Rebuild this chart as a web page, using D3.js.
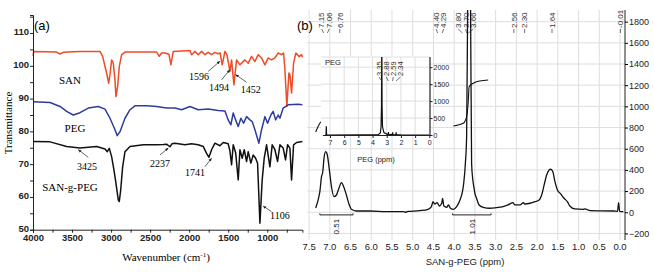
<!DOCTYPE html>
<html>
<head>
<meta charset="utf-8">
<script src="https://cdn.jsdelivr.net/npm/d3@7"></script>
<style>
  body { margin: 0; background: #fff; }
  svg { display: block; }
</style>
</head>
<body>
<svg id="chart" width="654" height="273"></svg>
<script>
// ---- (a) FTIR spectra: [wavenumber, transmittance] ----
const sanIR = [[4000,103.0],[3990,104.4],[3697,104.2],[3654,103.6],[3612,104.1],[3398,104.4],[3142,104.4],[3108,102.9],[3078,99.8],[3057,97.8],[3031,94.7],[3014,97.3],[2993,101.8],[2972,100.8],[2950,95.7],[2938,90.6],[2916,93.7],[2895,99.8],[2865,103.4],[2822,104.2],[2417,104.2],[2383,102.9],[2353,103.9],[2310,103.9],[2259,103.5],[2234,100.3],[2204,104.4],[1990,104.7],[1969,103.4],[1926,104.4],[1884,103.4],[1841,104.4],[1798,103.4],[1756,104.1],[1713,103.4],[1670,104.1],[1628,103.7],[1603,103.9],[1577,100.3],[1542,104.4],[1517,103.4],[1478,98.3],[1457,101.8],[1427,94.2],[1393,101.8],[1350,100.3],[1286,101.8],[1244,100.8],[1201,102.9],[1158,101.3],[1116,103.4],[1073,102.4],[1030,100.3],[988,102.4],[945,101.8],[902,102.4],[860,103.9],[817,103.4],[791,103.9],[774,98.8],[749,87.6],[723,97.8],[710,97.3],[689,91.7],[663,100.8],[634,103.9],[591,102.8],[561,103.4],[550,102.6]];
const pegIR = [[4000,89.0],[3782,88.8],[3654,87.6],[3569,86.1],[3484,85.0],[3398,85.7],[3292,87.1],[3164,87.6],[3078,86.8],[3014,84.0],[2950,80.5],[2921,78.7],[2886,79.9],[2822,84.0],[2758,86.6],[2694,87.8],[2545,87.8],[2417,87.6],[2289,87.1],[2182,87.1],[2097,86.6],[1990,87.6],[1884,86.6],[1756,86.8],[1628,86.4],[1542,86.2],[1500,83.5],[1466,82.0],[1436,85.6],[1405,83.5],[1372,81.5],[1338,84.0],[1303,82.5],[1265,84.5],[1222,83.5],[1193,83.0],[1158,80.5],[1107,76.4],[1073,80.5],[1030,84.5],[996,82.5],[954,85.0],[924,86.1],[893,83.5],[860,85.0],[838,84.0],[796,87.1],[732,88.1],[604,88.3],[550,88.1]];
const graftIR = [[4000,76.9],[3782,76.8],[3569,75.4],[3398,74.9],[3185,75.4],[3078,74.6],[3049,73.8],[3023,74.8],[2993,72.3],[2963,68.2],[2938,64.2],[2908,59.1],[2895,58.6],[2877,62.1],[2852,69.2],[2822,73.8],[2758,75.4],[2588,75.9],[2417,75.9],[2332,76.0],[2289,76.1],[2246,75.3],[2221,76.2],[2182,76.4],[2054,75.9],[1969,76.2],[1884,75.9],[1820,75.4],[1777,73.3],[1747,72.1],[1713,74.4],[1670,76.4],[1606,75.6],[1564,76.6],[1500,76.2],[1478,74.0],[1457,69.8],[1436,75.9],[1405,73.5],[1372,65.2],[1350,74.4],[1321,71.8],[1295,74.4],[1265,70.8],[1244,73.8],[1210,70.3],[1180,72.8],[1149,71.8],[1124,70.3],[1094,52.0],[1065,65.2],[1039,71.8],[1009,75.9],[966,69.2],[937,75.9],[902,74.4],[868,70.8],[838,75.9],[796,74.9],[766,71.3],[740,75.9],[710,74.9],[689,65.2],[663,75.9],[625,76.6],[550,76.9]];
const irNames = ['SAN', 'PEG', 'SAN-g-PEG'];
const irColors = ['#ef4b27', '#2e3d9c', '#111'];
const irTicksX = [4000, 3500, 3000, 2500, 2000, 1500, 1000];
const irTicksY = [50, 60, 70, 80, 90, 100, 110];
// band labels: [text, text wn, text T, arrow tail wn, tail T, head wn, head T]
const irBands = [
  ['1596', 1875, 95.7, 1756, 98.3, 1606, 101.4],
  ['1494', 1619, 92.4, 1585, 95.7, 1478, 98.8],
  ['1452', 1210, 91.8, 1265, 95.0, 1405, 97.3],
  ['3425', 3309, 68.2, 3292, 72.1, 3420, 74.4],
  ['2237', 2374, 69.2, 2374, 72.8, 2268, 74.9],
  ['1741', 1926, 66.3, 1798, 69.2, 1713, 71.8],
  ['1106', 838, 53.3, 945, 55.5, 1052, 57.2]
];

// ---- (b) 1H NMR: [ppm, intensity] ----
const sanGPegNMR = [[7.34,40],[7.28,120],[7.24,195],[7.20,336],[7.17,380],[7.14,510],[7.10,572],[7.06,541],[7.02,431],[6.96,242],[6.90,147],[6.84,163],[6.78,227],[6.72,280],[6.66,236],[6.60,163],[6.53,69],[6.48,28],[6.36,12],[6.03,12],[5.63,6],[5.23,6],[5.17,0],[5.12,8],[4.83,15],[4.63,28],[4.55,53],[4.51,100],[4.47,78],[4.41,91],[4.36,59],[4.30,85],[4.28,132],[4.25,59],[4.18,47],[4.14,69],[4.09,38],[4.02,28],[3.94,53],[3.86,116],[3.80,195],[3.77,274],[3.73,463],[3.70,714],[3.676,1900],[3.64,3200],[3.604,1900],[3.58,463],[3.55,305],[3.52,227],[3.50,179],[3.46,132],[3.40,69],[3.30,47],[3.14,38],[2.98,44],[2.90,48],[2.82,53],[2.70,69],[2.58,91],[2.54,69],[2.41,69],[2.33,91],[2.30,78],[2.17,85],[2.05,100],[1.95,116],[1.89,163],[1.83,258],[1.77,352],[1.71,399],[1.67,406],[1.62,383],[1.57,289],[1.51,211],[1.43,173],[1.35,132],[1.27,100],[1.21,59],[1.09,31],[0.89,28],[0.85,32],[0.72,15],[0.16,12],[0.06,9],[0.035,90],[0.01,9],[-0.08,6]];
const aromaticIntegral = [[7.34,758],[7.24,840],[7.16,872],[7.08,909],[6.96,950],[6.84,966],[6.72,982],[6.60,1013],[6.44,1035]];
const pegIntegral = [[4.02,815],[3.78,840],[3.70,903],[3.66,1050],[3.64,1186],[3.54,1218],[3.38,1240],[3.18,1249]];
const integrals = [[7.24, 6.44, '0.51'], [4.04, 3.11, '1.01']];
const sanGPegShifts = [7.15, 7.06, 6.76, 4.40, 4.29, 3.80, 3.70, 3.66, 2.56, 2.30, 1.64, -0.01];
const ppmTicks = [7.5, 7.0, 6.5, 6.0, 5.5, 5.0, 4.5, 4.0, 3.5, 3.0, 2.5, 2.0, 1.5, 1.0, 0.5, 0.0];
const intTicks = [-200, 0, 200, 400, 600, 800, 1000, 1200, 1400, 1600, 1800];

// inset: PEG alone
const pegNMR = [[7.35,0],[7.28,0],[7.26,260],[7.24,0],[5.0,4],[3.6,10],[3.45,60],[3.40,250],[3.37,900],[3.35,3000],[3.33,900],[3.30,250],[3.2,70],[3.0,25],[2.9,15],[2.88,90],[2.86,15],[2.62,10],[2.59,80],[2.56,10],[2.36,8],[2.34,80],[2.32,8],[2.0,4],[0.0,0]];
const pegShifts = [3.35, 2.88, 2.59, 2.34];
const insetTicksX = [7, 6, 5, 4, 3, 2, 1, 0];
const insetTicksY = [0, 500, 1000, 1500, 2000];

const svg = d3.select('#chart');
const sans = 'Liberation Sans, Arial, sans-serif';
const serif = 'Liberation Serif, Times New Roman, serif';
const plain = d3.format('d');

svg.append('defs').append('marker')
  .attr('id', 'arr').attr('viewBox', '0 0 10 10').attr('refX', 9).attr('refY', 5)
  .attr('markerWidth', 5).attr('markerHeight', 5).attr('orient', 'auto')
  .append('path').attr('d', 'M0,1L10,5L0,9z').attr('fill', '#222');

// ================= panel (a) =================
const xa = d3.scaleLinear().domain([4000, 550]).range([33, 302.4]);
const ya = d3.scaleLinear().domain([50, 115.5]).range([229.7, 15]);
const ga = svg.append('g');

const irLine = d3.line().x(d => xa(d[0])).y(d => ya(d[1]));
[sanIR, pegIR, graftIR].forEach((s, i) => {
  ga.append('path').datum(s).attr('d', irLine)
    .attr('fill', 'none').attr('stroke', irColors[i]).attr('stroke-width', 1.5)
    .attr('stroke-linejoin', 'round');
});

// axes
const axY = ga.append('g').attr('transform', 'translate(33,0)')
  .call(d3.axisLeft(ya).tickValues(d3.range(50, 116, 5)).tickSize(3).tickFormat(d => irTicksY.includes(d) ? plain(d) : ''));
const axX = ga.append('g').attr('transform', 'translate(0,229.7)')
  .call(d3.axisBottom(xa).tickValues(d3.range(4000, 549, -250)).tickSize(3).tickFormat(d => irTicksX.includes(d) ? plain(d) : ''));
[axY, axX].forEach(a => {
  a.select('.domain').attr('stroke', '#222');
  a.selectAll('.tick line').attr('stroke', '#222');
  a.selectAll('text').attr('font-family', sans).attr('font-weight', 'bold')
    .attr('font-size', 9.5).attr('fill', '#222');
});
axY.selectAll('text').attr('x', -4).attr('dy', '0.2em');
axX.selectAll('text').attr('y', 5);

ga.append('text').attr('transform', 'translate(12,123) rotate(-90)')
  .attr('text-anchor', 'middle').attr('font-family', serif).attr('font-size', 11)
  .text('Transmittance');
const xt = ga.append('text').attr('x', 166).attr('y', 261).attr('text-anchor', 'middle')
  .attr('font-family', serif).attr('font-size', 11);
xt.append('tspan').text('Wavenumber (cm');
xt.append('tspan').attr('dy', -4).attr('font-size', 7).text('-1');
xt.append('tspan').attr('dy', 4).text(')');

ga.append('text').attr('x', 34).attr('y', 30).attr('font-family', sans).attr('font-size', 13).text('(a)');

// series names
const namePos = [[3526, 94.5], [3462, 79.8], [3526, 61.8]];
irNames.forEach((n, i) => {
  ga.append('text').attr('x', xa(namePos[i][0])).attr('y', ya(namePos[i][1]))
    .attr('text-anchor', 'middle').attr('font-family', serif).attr('font-size', 11).text(n);
});

// band annotations
irBands.forEach(b => {
  ga.append('text').attr('x', xa(b[1])).attr('y', ya(b[2])).attr('text-anchor', 'middle')
    .attr('font-family', serif).attr('font-size', 10).text(b[0]);
  ga.append('line').attr('x1', xa(b[3])).attr('y1', ya(b[4])).attr('x2', xa(b[5])).attr('y2', ya(b[6]))
    .attr('stroke', '#222').attr('stroke-width', 0.7).attr('marker-end', 'url(#arr)');
});

// ================= panel (b) =================
const xb = d3.scaleLinear().domain([7.55, -0.12]).range([307, 625]);
const yb = d3.scaleLinear().domain([-262, 1910]).range([240, 10]);
const gb = svg.append('g');

gb.append('clipPath').attr('id', 'clipB').append('rect')
  .attr('x', 307).attr('y', 10).attr('width', 318).attr('height', 230);

// grid
gb.append('g').selectAll('line').data(ppmTicks).join('line')
  .attr('x1', d => xb(d)).attr('x2', d => xb(d)).attr('y1', 10).attr('y2', 240)
  .attr('stroke', '#dedede').attr('stroke-width', 1);
gb.append('g').selectAll('line').data(intTicks).join('line')
  .attr('x1', 307).attr('x2', 625).attr('y1', d => yb(d)).attr('y2', d => yb(d))
  .attr('stroke', '#dedede').attr('stroke-width', 1);

const nmrLine = d3.line().x(d => xb(d[0])).y(d => yb(d[1])).curve(d3.curveMonotoneX);
const bodyB = gb.append('g').attr('clip-path', 'url(#clipB)');
bodyB.append('path').datum(sanGPegNMR).attr('d', nmrLine)
  .attr('fill', 'none').attr('stroke', '#111').attr('stroke-width', 1.3);
bodyB.append('path').datum(pegIntegral).attr('d', nmrLine)
  .attr('fill', 'none').attr('stroke', '#111').attr('stroke-width', 1.1);

// right axis
const axB = gb.append('g').attr('transform', 'translate(625,0)')
  .call(d3.axisRight(yb).tickValues(intTicks).tickSize(3).tickFormat(plain));
axB.select('.domain').attr('stroke', '#222').attr('d', `M0,${10}V${240}`);
axB.selectAll('text').attr('font-family', sans).attr('font-size', 9).attr('fill', '#222').attr('x', 4);

// bottom tick labels (no axis line)
gb.append('g').selectAll('text').data(ppmTicks).join('text')
  .attr('x', d => xb(d)).attr('y', 250).attr('text-anchor', 'middle')
  .attr('font-family', sans).attr('font-size', 9.5).attr('fill', '#222')
  .text(d => d.toFixed(1));
gb.append('text').attr('x', 465).attr('y', 265).attr('text-anchor', 'middle')
  .attr('font-family', sans).attr('font-size', 9.5).attr('fill', '#222').text('SAN-g-PEG (ppm)');

gb.append('text').attr('x', 297).attr('y', 30).attr('font-family', sans).attr('font-size', 13).text('(b)');

// integration bars
integrals.forEach(r => {
  const x1 = xb(r[0]), x2 = xb(r[1]), y = yb(-25);
  gb.append('path').attr('d', `M${x1},${y - 1.5}V${y}H${x2}V${y - 1.5}`)
    .attr('fill', 'none').attr('stroke', '#222').attr('stroke-width', 1);
  gb.append('text').attr('transform', `translate(${(x1 + x2) / 2},${y + 4}) rotate(-90)`)
    .attr('text-anchor', 'end').attr('dy', '0.35em')
    .attr('font-family', sans).attr('font-size', 8).attr('fill', '#222').text(r[2]);
});

// spread crowded peak labels apart, keep connectors to the peaks
function spread(targets, gap) {
  const groups = [];
  targets.forEach(t => {
    groups.push({ sum: t, n: 1, start: t });
    while (groups.length > 1) {
      const b = groups[groups.length - 1], a = groups[groups.length - 2];
      if (a.start + a.n * gap <= b.start) break;
      groups.pop();
      a.sum += b.sum; a.n += b.n;
      a.start = a.sum / a.n - (a.n - 1) * gap / 2;
    }
  });
  return groups.flatMap(g => d3.range(g.n).map(i => g.start + i * gap));
}
function peakLabels(g, shifts, xs, yBase, size) {
  const targets = shifts.map(xs);
  const pos = spread(targets, size * 0.95);
  shifts.forEach((s, i) => {
    g.append('line').attr('x1', pos[i]).attr('y1', yBase + 1).attr('x2', targets[i]).attr('y2', yBase + 5)
      .attr('stroke', '#333').attr('stroke-width', 0.7);
    g.append('text').attr('transform', `translate(${pos[i]},${yBase}) rotate(-90)`)
      .attr('dy', '0.35em').attr('font-family', sans).attr('font-size', size).attr('fill', '#333')
      .text(s.toFixed(2));
  });
}
peakLabels(gb, sanGPegShifts, xb, 28, 8);

// ---------- inset ----------
const xi = d3.scaleLinear().domain([7.5, 0]).range([322.9, 429.3]);
const yi = d3.scaleLinear().domain([0, 2300]).range([135, 57]);
const gi = svg.append('g');
gi.append('rect').attr('x', 321).attr('y', 56).attr('width', 109).attr('height', 80).attr('fill', '#fff');
gi.append('g').selectAll('line').data(insetTicksX.slice(0, -1)).join('line')
  .attr('x1', d => xi(d)).attr('x2', d => xi(d)).attr('y1', 57).attr('y2', 135)
  .attr('stroke', '#dedede');
gi.append('g').selectAll('line').data(insetTicksY.slice(1)).join('line')
  .attr('x1', 321).attr('x2', 430).attr('y1', d => yi(d)).attr('y2', d => yi(d))
  .attr('stroke', '#dedede');
gi.append('line').attr('x1', 321).attr('x2', 430).attr('y1', 57).attr('y2', 57).attr('stroke', '#dedede');

gi.append('clipPath').attr('id', 'clipI').append('rect')
  .attr('x', 321).attr('y', 57).attr('width', 109).attr('height', 80);
const insetLine = d3.line().x(d => xi(d[0])).y(d => yi(d[1]));
gi.append('g').attr('clip-path', 'url(#clipI)').append('path').datum(pegNMR).attr('d', insetLine)
  .attr('fill', 'none').attr('stroke', '#111').attr('stroke-width', 1.2);

const axIX = gi.append('g').attr('transform', 'translate(0,135.5)')
  .call(d3.axisBottom(xi).tickValues(insetTicksX).tickSize(2.5).tickFormat(plain));
axIX.select('.domain').attr('d', `M${xi(7.5)},0H${xi(0) + 1}`);
const axIY = gi.append('g').attr('transform', 'translate(430,0)')
  .call(d3.axisRight(yi).tickValues(insetTicksY).tickSize(2.5).tickFormat(plain));
axIY.select('.domain').attr('d', 'M0,57V136');
[axIX, axIY].forEach(a => {
  a.select('.domain').attr('stroke', '#222').attr('stroke-width', 1.2);
  a.selectAll('.tick line').attr('stroke', '#222');
  a.selectAll('text').attr('font-family', sans).attr('font-size', 7).attr('fill', '#222');
});
axIX.selectAll('text').attr('y', 4.5);
axIY.selectAll('text').attr('x', 3.5);
gi.append('text').attr('x', 376).attr('y', 162).attr('text-anchor', 'middle')
  .attr('font-family', sans).attr('font-size', 7.5).attr('fill', '#222').text('PEG (ppm)');
gi.append('text').attr('x', 325).attr('y', 65).attr('font-family', sans).attr('font-size', 7.5)
  .attr('fill', '#222').text('PEG');
peakLabels(gi, pegShifts, xi, 76, 7.5);

// aromatic integral sits on top of the inset
gb.append('path').datum(aromaticIntegral).attr('d', nmrLine)
  .attr('fill', 'none').attr('stroke', '#111').attr('stroke-width', 1.1);
</script>
</body>
</html>
